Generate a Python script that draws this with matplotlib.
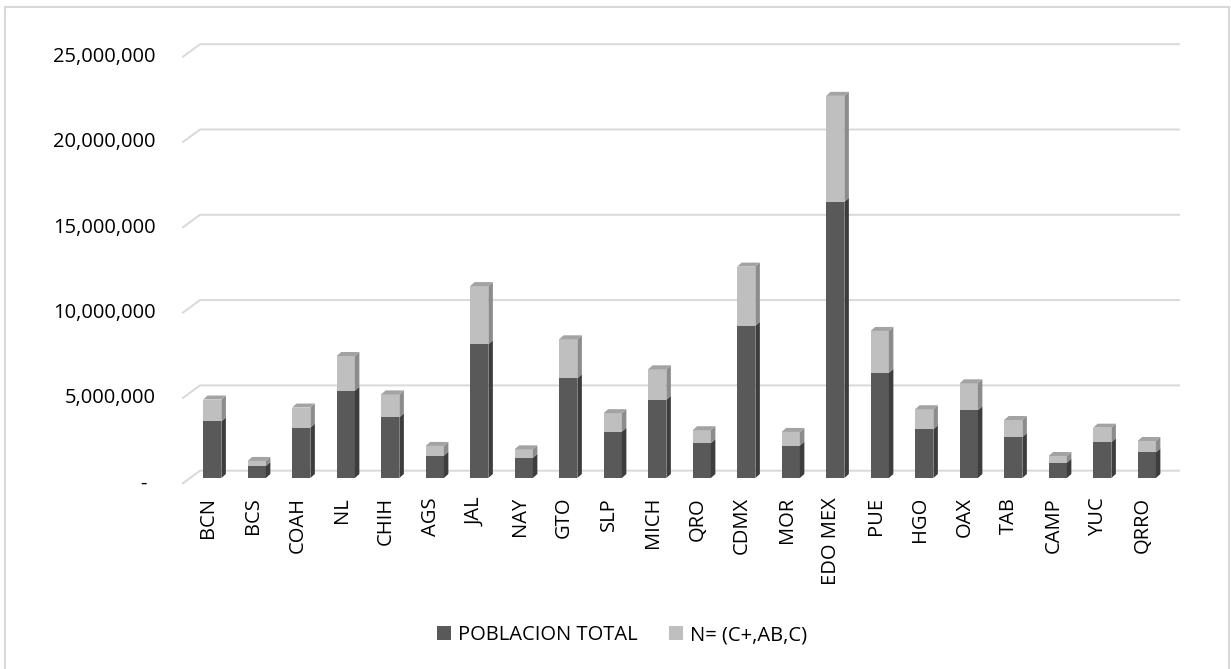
import matplotlib
matplotlib.use('Agg')
import matplotlib.pyplot as plt
import matplotlib.transforms as mtransforms
from matplotlib.patches import Polygon, Patch
from matplotlib.lines import Line2D

# ---------------- data ----------------
estados = ['BCN', 'BCS', 'COAH', 'NL', 'CHIH', 'AGS', 'JAL', 'NAY', 'GTO', 'SLP',
           'MICH', 'QRO', 'CDMX', 'MOR', 'EDO MEX', 'PUE', 'HGO', 'OAX', 'TAB',
           'CAMP', 'YUC', 'QRRO']
poblacion_total = [3320000, 710000, 2950000, 5120000, 3560000, 1310000, 7840000,
                   1180000, 5850000, 2720000, 4580000, 2040000, 8920000, 1900000,
                   16190000, 6170000, 2860000, 3970000, 2400000, 900000, 2100000,
                   1500000]
n_cab = [1280000, 290000, 1180000, 2030000, 1340000, 570000, 3410000, 500000,
         2280000, 1080000, 1790000, 760000, 3470000, 800000, 6210000, 2450000,
         1170000, 1580000, 1000000, 390000, 850000, 670000]
yticks = [0, 5000000, 10000000, 15000000, 20000000, 25000000]
ytick_labels = ['-', '5,000,000', '10,000,000', '15,000,000', '20,000,000', '25,000,000']
series_names = ['POBLACION TOTAL', 'N= (C+,AB,C)']

# ---------------- style ----------------
W, H = 1231, 669
plt.rcParams['font.family'] = ['Open Sans', 'DejaVu Sans']
FS = 14.5
dark_front, dark_side = '#595959', '#3d3d3d'
light_front, light_side, light_top = '#bfbfbf', '#8c8c8c', '#a3a3a3'
grid_col = '#d9d9d9'

fig = plt.figure(figsize=(W / 100, H / 100), dpi=100)
# bar plane: x 190..1169 px, y(0)=478 px, y(25M)=51.5 px (image coords)
ax = fig.add_axes([190 / W, 1 - 478 / H, 979 / W, (478 - 51.5) / H])
ax.set_xlim(-0.5, len(estados) - 0.5)
ax.set_ylim(yticks[0], yticks[-1])
ax.axis('off')
ident = mtransforms.IdentityTransform()

x = list(range(len(estados)))
bw = 0.41

# back-wall gridlines + floor diagonals
back_dx, back_dy = 10, 7.3      # back wall offset from bar plane (display px)
front_dx, front_dy = -7, -5.2   # front edge offset from bar plane
for v in yticks:
    xl, yv = ax.transData.transform((-0.5, v))
    xr, _ = ax.transData.transform((len(estados) - 0.5, v))
    ax.add_line(Line2D([xl + front_dx, xl + back_dx, xr + back_dx],
                       [yv + front_dy, yv + back_dy, yv + back_dy],
                       transform=ident, color=grid_col, lw=1.4, clip_on=False, zorder=1))

# bars (front faces)
b1 = ax.bar(x, poblacion_total, width=bw, color=dark_front, zorder=3, clip_on=False)
b2 = ax.bar(x, n_cab, width=bw, bottom=poblacion_total, color=light_front, zorder=3, clip_on=False)

# 3D side faces and top caps
ddx, ddy = 4.5, 4.0
for i in x:
    p, n = poblacion_total[i], n_cab[i]
    segs = [(0, p, dark_side), (p, p + n, light_side)]
    for y0, y1, sc in segs:
        xr, yb = ax.transData.transform((i + bw / 2, y0))
        _, yt = ax.transData.transform((i + bw / 2, y1))
        ax.add_patch(Polygon([(xr, yb), (xr, yt), (xr + ddx, yt + ddy), (xr + ddx, yb + ddy)],
                             closed=True, transform=ident, facecolor=sc, edgecolor='none',
                             zorder=3, clip_on=False))
    xl, yt = ax.transData.transform((i - bw / 2, p + n))
    xr, _ = ax.transData.transform((i + bw / 2, p + n))
    ax.add_patch(Polygon([(xl, yt), (xr, yt), (xr + ddx, yt + ddy), (xl + ddx, yt + ddy)],
                         closed=True, transform=ident, facecolor=light_top, edgecolor='none',
                         zorder=3, clip_on=False))

# y tick labels (at the front edge of the walls)
for v, lab in zip(yticks, ytick_labels):
    _, yv = ax.transData.transform((-0.5, v))
    if lab == '-':
        ax.text(143, yv - 6, lab, transform=ident, ha='center', va='center',
                fontsize=FS, color='#000000')
    else:
        ax.text(156, yv - 5.5, lab, transform=ident, ha='right', va='center',
                fontsize=FS, color='#000000')

# x tick labels
xlab_tr = ax.transData + mtransforms.ScaledTranslation(-4 / 100, -19 / 100, fig.dpi_scale_trans)
for i, name in zip(x, estados):
    ax.text(i, 0, name, transform=xlab_tr, rotation=90, ha='center', va='top',
            fontsize=FS, color='#000000')

# legend
handles = [Patch(facecolor=dark_front, edgecolor='none'),
           Patch(facecolor=light_front, edgecolor='none')]
fig.legend(handles, series_names, loc='center', bbox_to_anchor=(622 / W, 1 - 635 / H),
           ncol=2, frameon=False, fontsize=FS, handlelength=0.7, handleheight=0.7,
           handletextpad=0.3, columnspacing=1.6)

# outer chart border
for xs, ys in [([5, 5], [0, 662]), ([5, 1229], [662, 662]), ([1229, 1229], [662, 0])]:
    fig.add_artist(Line2D(xs, ys, transform=ident, color=grid_col, lw=1.5))

fig.savefig('out.png', dpi=100)
